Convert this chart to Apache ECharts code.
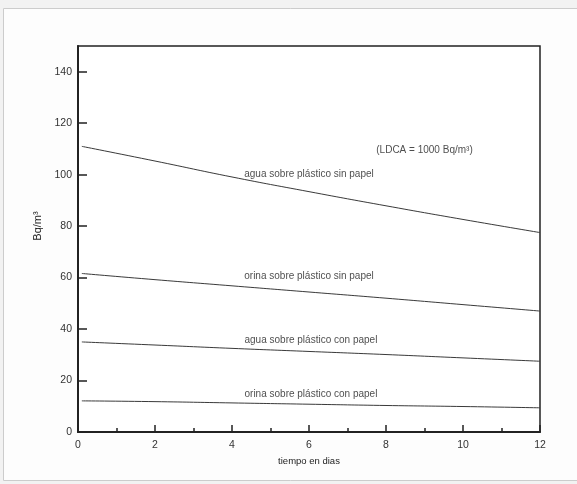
<!DOCTYPE html>
<html>
<head>
<meta charset="utf-8">
<script src="https://cdn.jsdelivr.net/npm/echarts@6/dist/echarts.min.js"></script>
<style>html,body{margin:0;padding:0;background:#f2f2f2;}#c{width:577px;height:484px;}</style>
</head>
<body>
<div id="c"></div>
<script>
// Data (x = tiempo en días, y = Bq/m3)
var aguaSinPapel  = [[0.1,111],[2,105.3],[4,99.1],[6,93.4],[8,87.9],[10,82.6],[12,77.5]];
var orinaSinPapel = [[0.1,61.6],[2,59.2],[4,56.8],[6,54.4],[8,52],[10,49.5],[12,47]];
var aguaConPapel  = [[0.1,35],[2,33.8],[4,32.5],[6,31.3],[8,30.1],[10,28.8],[12,27.5]];
var orinaConPapel = [[0.1,12.1],[2,11.8],[4,11.3],[6,10.8],[8,10.3],[10,9.9],[12,9.4]];
var seriesNames = ['agua sobre plástico sin papel','orina sobre plástico sin papel','agua sobre plástico con papel','orina sobre plástico con papel'];
var annotTexts = ['agua sobre plástico sin papel','orina sobre plástico sin papel','agua sobre plástico con papel','orina sobre plástico con papel','(LDCA = 1000 Bq/m³)'];
var annotPos = [[6.0,100.2],[6.0,60.4],[6.05,35.6],[6.05,14.6],[9.0,109.3]];
var xTicks = [0,2,4,6,8,10,12];
var yTicks = [0,20,40,60,80,100,120,140];

var chart = echarts.init(document.getElementById('c'), null, {renderer:'canvas'});
var lineColor = '#3a3a3a';
var font = 'Liberation Sans, Arial, sans-serif';
function lineSeries(name, data){
  return {name:name, type:'line', data:data, symbol:'none', smooth:true,
    lineStyle:{color:lineColor, width:1}, silent:true, z:3};
}
var annData = annotPos.map(function(p,i){ return {value:p, label:{formatter:annotTexts[i]}}; });
chart.setOption({
  backgroundColor:'#f2f2f2',
  animation:false,
  graphic:[{type:'rect', shape:{x:3.5,y:8.5,width:600,height:472}, style:{fill:'#fdfdfd', stroke:'#cccccc', lineWidth:1}, z:-10}],
  grid:{left:78, right:37, top:46, bottom:52, show:true, borderColor:'#222', borderWidth:1.5, backgroundColor:'#ffffff'},
  xAxis:{type:'value', min:0, max:12, interval:2,
    name:'tiempo en dias', nameLocation:'middle', nameGap:22,
    nameTextStyle:{fontFamily:font, fontSize:9.5, color:'#222'},
    axisLine:{show:true, lineStyle:{color:'#222', width:2}},
    axisTick:{show:true, inside:true, length:7, lineStyle:{color:'#222', width:1.5}},
    minorTick:{show:true, splitNumber:2, length:4, lineStyle:{color:'#222', width:1.5}},
    splitLine:{show:false},
    axisLabel:{fontFamily:font, fontSize:10.5, color:'#333', margin:8,
      formatter:function(v){ return xTicks.indexOf(v)>=0 ? String(v) : ''; }}
  },
  yAxis:{type:'value', min:0, max:150, interval:20,
    name:'Bq/m³', nameLocation:'middle', nameGap:29, nameRotate:90,
    nameTextStyle:{fontFamily:font, fontSize:11, color:'#222', padding:[0,0,0,26]},
    axisLine:{show:true, lineStyle:{color:'#222', width:2}},
    axisTick:{show:true, inside:true, length:9, lineStyle:{color:'#222', width:1.5}},
    splitLine:{show:false},
    axisLabel:{fontFamily:font, fontSize:10.5, color:'#333', margin:6, showMaxLabel:false,
      formatter:function(v){ return yTicks.indexOf(v)>=0 ? String(v) : ''; }}
  },
  series:[
    lineSeries(seriesNames[0], aguaSinPapel),
    lineSeries(seriesNames[1], orinaSinPapel),
    lineSeries(seriesNames[2], aguaConPapel),
    lineSeries(seriesNames[3], orinaConPapel),
    {type:'scatter', data:annData, symbolSize:0, silent:true, z:4,
      label:{show:true, position:'inside', fontFamily:font, fontSize:10, color:'#222'}}
  ]
});
</script>
</body>
</html>
